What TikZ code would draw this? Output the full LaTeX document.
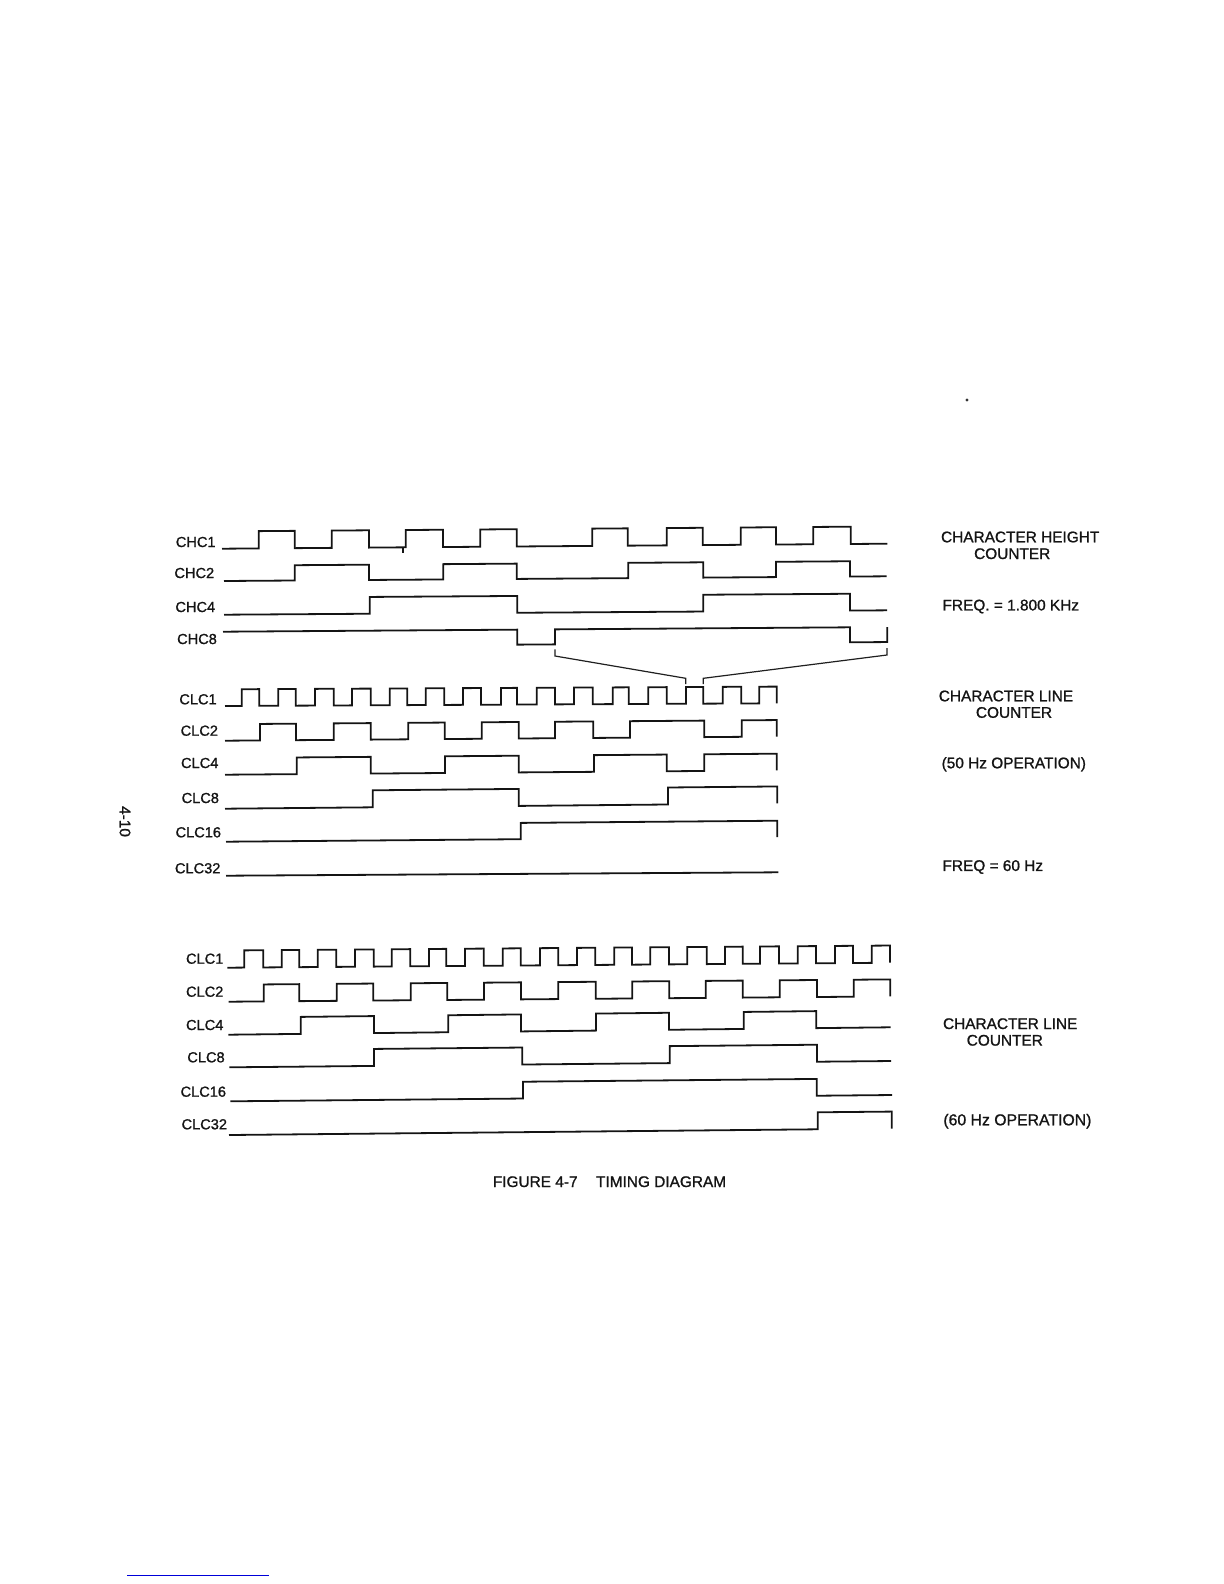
\documentclass[tikz,border=0pt]{standalone}
\usepackage{fontspec}
\setmainfont{Liberation Sans}[BoldFont=Liberation Sans,BoldFeatures={FakeBold=1.1}]
\newcommand\wave[8]{%
  \draw[sig] (#1,{#2-#3*#5})
    \foreach \e [count=\i] in {#6} {
      -- (\e,{#2+#4*(\e-#1)-#3*mod(#5+\i-1,2)})
      -- (\e,{#2+#4*(\e-#1)-#3*mod(#5+\i,2)})
    }
    -- (#7,{#2+#4*(#7-#1)-#3*#8});
}
\tikzset{
  sig/.style={line width=0.9pt,draw=black!92,miter limit=4},
  thinsig/.style={line width=0.6pt,draw=black!88},
  lab/.style={inner sep=0pt,font=\fontsize{7.3}{8}\selectfont\bfseries,text=black!92},
  note/.style={inner sep=0pt,font=\fontsize{7.7}{8}\selectfont\bfseries,text=black!92},
}
\begin{document}
\begin{tikzpicture}[x=0.5pt,y=-0.5pt]
\useasboundingbox (0,0) rectangle (1224,1584);
% labels
\node[lab] (chc1) at (195.7,542) {CHC1};
\node[lab] (chc2) at (194.3,573) {CHC2};
\node[lab] (chc4) at (195.3,607) {CHC4};
\node[lab] (chc8) at (197,639) {CHC8};
\node[lab] (aclc1) at (198,699.3) {CLC1};
\node[lab] (aclc2) at (199.3,730.7) {CLC2};
\node[lab] (aclc4) at (199.7,763) {CLC4};
\node[lab] (aclc8) at (200.3,798) {CLC8};
\node[lab] (aclc16) at (198.3,832.3) {CLC16};
\node[lab] (aclc32) at (197.7,868.3) {CLC32};
\node[lab] (bclc1) at (204.7,958.7) {CLC1};
\node[lab] (bclc2) at (204.7,991.7) {CLC2};
\node[lab] (bclc4) at (204.7,1025) {CLC4};
\node[lab] (bclc8) at (206,1057.3) {CLC8};
\node[lab] (bclc16) at (203.3,1091.7) {CLC16};
\node[lab] (bclc32) at (204.3,1124.3) {CLC32};
% notes
\node[note] (n1) at (1020.2,537) {CHARACTER HEIGHT};
\node[note] (n2) at (1012.2,553.7) {COUNTER};
\node[note] (n3) at (1010.8,606.5) {FREQ. = 1.800 KHz};
\node[note] (n4) at (1006,696) {CHARACTER LINE};
\node[note] (n5) at (1014,712.5) {COUNTER};
\node[note] (n6) at (1013.8,764.3) {(50 Hz OPERATION)};
\node[note] (n7) at (992.8,867) {FREQ = 60 Hz};
\node[note] (n8) at (1010.2,1023.7) {CHARACTER LINE};
\node[note] (n9) at (1004.8,1040.3) {COUNTER};
\node[note,font=\fontsize{7.9}{8}\selectfont\bfseries] (n10) at (1017.4,1121.2) {(60 Hz OPERATION)};
\node[note] (cap) at (609.5,1181.7) {FIGURE 4-7\hspace{1.2em}TIMING DIAGRAM};
\node[note,rotate=-90] (page) at (125,821.5) {4-10};
% character height counter
\wave{222}{548.7}{17.3}{-0.0075}{0}{258.7,294.7,331.7,369,405.7,443,480.3,516.7,592.3,627.7,666.7,702.7,740.7,776,813.3,850.7}{887.3}{0}
\wave{224}{581}{15.3}{-0.0071}{0}{294.7,369,443.3,516.7,628.3,703.3,776,850}{886.7}{0}
\wave{224}{614.7}{16.8}{-0.0066}{0}{369.7,517.3,703.3,850}{887}{0}
\wave{223}{646.7}{15}{-0.0070}{1}{517.3,555,850,887.3}{887.3}{1}
\draw[sig] (403,548) -- (403,553);
% bracket
\draw[thinsig] (555,649.3) -- (555,656) -- (685.7,678.3) -- (685.7,684);
\draw[thinsig] (887,648) -- (887,655) -- (703.3,678.3) -- (703.3,684);
% 50 Hz
\wave{225}{706}{16.7}{-0.0049}{0}{241.7,259.3,278.3,295.7,315,333.7,352,370.7,389.7,407.3,425.7,444.3,463,481,501,517,536.7,555,574,592.7,612.7,628.7,648.3,666.7,686,703.3,722.7,741.3,759.3,776.7}{776.7}{0}
\wave{225}{740.7}{16.5}{-0.0075}{0}{260,296,333.7,370.7,408.3,444.7,481.7,518.7,555,593.3,630,704.3,741.7,776.7}{776.7}{0}
\wave{225}{774.7}{16.7}{-0.0078}{0}{296.7,370.7,445,518.7,594,666.7,704.3,776.7}{776.7}{0}
\wave{225}{808.7}{17}{-0.0095}{0}{372.7,518.7,668,777.3}{777.3}{0}
\wave{226}{841.7}{16.3}{-0.0085}{0}{520.7,777.3}{777.3}{0}
\draw[sig] (226,875.7) -- (778.3,872.3);
% 60 Hz
\wave{227.3}{967.7}{17.2}{-0.0075}{0}{244.3,263.3,281.7,299.3,317.7,336.3,355,373.7,391.7,410.3,429,446.3,465,483.7,502.7,520.7,540,558.3,577,595.3,614.3,632,650.3,669,687.3,706.7,725,742.7,760,779,797.7,816,835,853,871.7,890}{890}{0}
\wave{228.7}{1001.7}{17}{-0.0080}{0}{263.7,299.3,336.7,373.3,410.7,447.3,484,521,558.3,595.7,632.3,669.3,705.7,742.7,779.7,817,853.7,890.3}{890.3}{0}
\wave{228.3}{1034.7}{17}{-0.0112}{0}{300.7,374,448.3,521,596,669,743.7,816.3}{890.7}{0}
\wave{229.3}{1067.3}{17}{-0.0095}{0}{374,522.3,669.7,817}{891}{0}
\wave{230.3}{1101.3}{16.8}{-0.0095}{0}{523,816.7}{892}{0}
\wave{229}{1135}{17}{-0.0097}{0}{817.7,891.7}{891.7}{0}
% bottom rule and speck
\draw[line width=0.65pt,draw=blue!85!black] (127,1575.3) -- (269,1575.3);
\fill[black!80] (967,400) circle (1.6);
\end{tikzpicture}
\end{document}
